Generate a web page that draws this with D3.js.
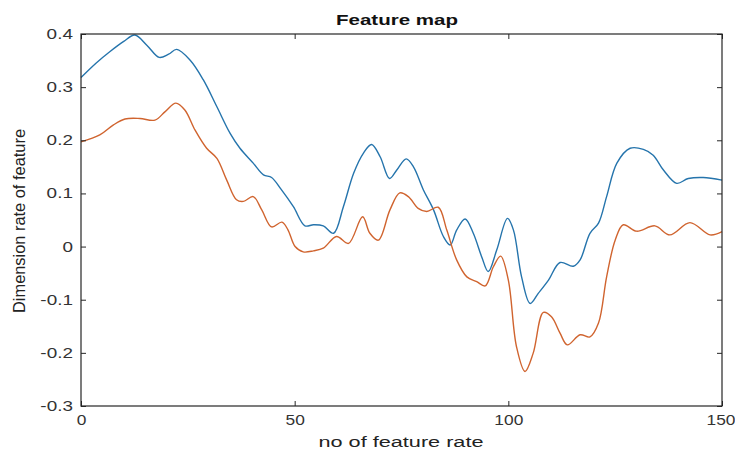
<!DOCTYPE html>
<html>
<head>
<meta charset="utf-8">
<script src="https://cdn.jsdelivr.net/npm/d3@7/dist/d3.min.js"></script>
<style>
  html, body { margin: 0; padding: 0; background: #fff; }
  svg { display: block; font-family: "Liberation Sans", Arial, Helvetica, sans-serif; }
</style>
</head>
<body>
<svg id="chart" width="735" height="450"></svg>
<script>
// ---- data ----
const blueX = [0, 3.5, 6.8, 10, 12.6, 15.4, 18.3, 20.5, 22.4, 25.5, 28.6, 31.8, 34.9, 37.2, 40.3, 42.7, 44.6, 46.8, 49.7, 52.4, 54.4, 56.7, 59.1, 61.4, 63.8, 66.1, 68.0, 70.0, 72.2, 73.9, 76.1, 77.8, 80.1, 82.5, 84.8, 86.4, 87.9, 89.9, 91.8, 93.8, 95.3, 97.3, 99.8, 101.2, 103.1, 105.1, 107.0, 109.4, 112.1, 115.2, 116.8, 119.1, 121.1, 123.0, 125.4, 128.5, 131.6, 133.9, 136.3, 139.4, 142.1, 145.6, 150];
const blueY = [0.318, 0.345, 0.367, 0.386, 0.398, 0.379, 0.356, 0.362, 0.371, 0.351, 0.314, 0.263, 0.213, 0.185, 0.157, 0.135, 0.130, 0.108, 0.075, 0.039, 0.041, 0.039, 0.025, 0.075, 0.138, 0.176, 0.192, 0.169, 0.128, 0.144, 0.165, 0.150, 0.107, 0.069, 0.019, 0.003, 0.031, 0.052, 0.025, -0.020, -0.047, -0.006, 0.053, 0.031, -0.057, -0.107, -0.088, -0.063, -0.030, -0.037, -0.025, 0.025, 0.044, 0.094, 0.157, 0.185, 0.183, 0.172, 0.144, 0.119, 0.128, 0.130, 0.125];

const orangeX = [0, 4.4, 7.6, 10.3, 13.8, 17.3, 19.7, 22.2, 24.3, 26.7, 29.4, 31.8, 34.1, 36.4, 38.0, 40.3, 42.3, 44.6, 47.0, 48.4, 50.1, 52.0, 54.4, 56.7, 59.8, 62.6, 65.9, 67.6, 69.6, 72.3, 74.6, 76.6, 78.9, 80.9, 83.6, 85.6, 87.9, 90.3, 92.6, 94.6, 96.5, 98.2, 100.0, 101.9, 103.9, 105.8, 108.2, 110.1, 112.1, 113.8, 116.8, 119.1, 121.1, 123.0, 125.0, 126.9, 130.0, 134.3, 137.8, 142.5, 147.2, 150];
const orangeY = [0.197, 0.210, 0.229, 0.240, 0.241, 0.238, 0.254, 0.270, 0.257, 0.219, 0.185, 0.166, 0.125, 0.088, 0.085, 0.094, 0.069, 0.037, 0.046, 0.032, 0.000, -0.010, -0.008, -0.003, 0.019, 0.006, 0.056, 0.025, 0.012, 0.069, 0.101, 0.094, 0.072, 0.066, 0.074, 0.031, -0.025, -0.057, -0.066, -0.074, -0.038, -0.018, -0.063, -0.188, -0.235, -0.201, -0.124, -0.132, -0.163, -0.185, -0.166, -0.170, -0.144, -0.057, 0.012, 0.041, 0.029, 0.039, 0.022, 0.045, 0.022, 0.028];

const xTicks = [0, 50, 100, 150];
const yTicks = [-0.3, -0.2, -0.1, 0, 0.1, 0.2, 0.3, 0.4];
const titleText = "Feature map";
const xLabelText = "no of feature rate";
const yLabelText = "Dimension rate of feature";

// ---- layout ----
const W = 735, H = 450;
const m = { left: 81, right: 13, top: 34, bottom: 44 };
const svg = d3.select("#chart");
const x = d3.scaleLinear().domain([0, 150]).range([m.left, W - m.right]);
const y = d3.scaleLinear().domain([-0.3, 0.4]).range([H - m.bottom, m.top]);
const axisColor = "#262626";

const fmtY = d => d === 0 ? "0" : d.toFixed(1);

// plot lines
const line = d3.line().x(d => x(d[0])).y(d => y(d[1])).curve(d3.curveCatmullRom.alpha(0.5));
const blue = blueX.map((v, i) => [v, blueY[i]]);
const orange = orangeX.map((v, i) => [v, orangeY[i]]);

svg.append("path").datum(blue).attr("d", line)
  .attr("fill", "none").attr("stroke", "#2574ac").attr("stroke-width", 1.4);
svg.append("path").datum(orange).attr("d", line)
  .attr("fill", "none").attr("stroke", "#d0642f").attr("stroke-width", 1.4);

// axes
function styleAxis(g) {
  g.select(".domain").remove();
  g.selectAll(".tick line").attr("stroke", axisColor).attr("stroke-width", 1);
  g.selectAll(".tick text").attr("fill", "#333").attr("font-size", 14);
}

const gx = svg.append("g").attr("transform", `translate(0,${H - m.bottom})`)
  .call(d3.axisBottom(x).tickValues(xTicks).tickSizeInner(-5).tickSizeOuter(0).tickPadding(9).tickFormat(d3.format("d")));
styleAxis(gx);
gx.selectAll(".tick text").attr("transform", (d, i) => (i === xTicks.length - 1 ? "translate(-1.5,0) " : "") + "scale(1.24,1)");

const gxt = svg.append("g").attr("transform", `translate(0,${m.top})`)
  .call(d3.axisTop(x).tickValues(xTicks).tickSizeInner(-5).tickSizeOuter(0).tickFormat(""));
styleAxis(gxt);

const gy = svg.append("g").attr("transform", `translate(${m.left},0)`)
  .call(d3.axisLeft(y).tickValues(yTicks).tickSizeInner(-5).tickSizeOuter(0).tickPadding(6).tickFormat(fmtY));
styleAxis(gy);
gy.selectAll(".tick text").attr("transform", "scale(1.35,1)");

const gyr = svg.append("g").attr("transform", `translate(${W - m.right},0)`)
  .call(d3.axisRight(y).tickValues(yTicks).tickSizeInner(-5).tickSizeOuter(0).tickFormat(""));
styleAxis(gyr);

// box
svg.append("rect")
  .attr("x", m.left).attr("y", m.top)
  .attr("width", W - m.right - m.left).attr("height", H - m.bottom - m.top)
  .attr("fill", "none").attr("stroke", axisColor).attr("stroke-width", 1.2);

// texts
svg.append("text").text(titleText)
  .attr("x", 397).attr("y", 25).attr("text-anchor", "middle")
  .attr("font-weight", "bold").attr("font-size", 15.5).attr("fill", "#111")
  .attr("textLength", 122).attr("lengthAdjust", "spacingAndGlyphs");

svg.append("text").text(xLabelText)
  .attr("x", 401).attr("y", 447).attr("text-anchor", "middle")
  .attr("font-size", 15.5).attr("fill", "#222")
  .attr("textLength", 165).attr("lengthAdjust", "spacingAndGlyphs");

svg.append("text").text(yLabelText)
  .attr("transform", "translate(25,221) rotate(-90)")
  .attr("text-anchor", "middle")
  .attr("font-size", 16).attr("fill", "#222")
  .attr("textLength", 184).attr("lengthAdjust", "spacingAndGlyphs");
</script>
</body>
</html>
